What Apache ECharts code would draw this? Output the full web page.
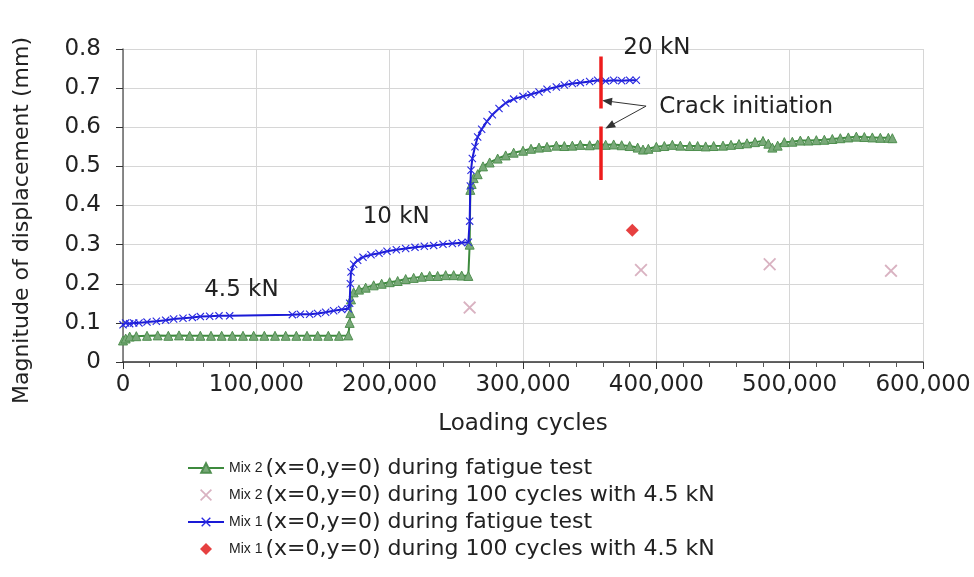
<!doctype html>
<html>
<head>
<meta charset="utf-8">
<script src="https://cdn.jsdelivr.net/npm/echarts@6/dist/echarts.min.js"></script>
<style>
  html, body { margin:0; padding:0; background:#fff; }
  #chart { width:974px; height:577px; }
</style>
</head>
<body>
<div id="chart"></div>
<script>
// Mix 1, fatigue test (blue)
const mix1Cycles = [0, 2000, 5000, 8000, 12000, 18000, 25000, 32000, 38000, 45000, 52000, 58000, 65000, 72000, 80000,
  127000, 133000, 140000, 146000, 152000, 158000, 164000, 169000,
  170000, 170500, 171000, 173000, 176000, 180000, 186000, 192000, 198000, 205000, 212000, 219000, 226000, 233000, 240000, 247000, 254000, 259000,
  260000, 260500, 261000, 262000, 264000, 266000, 269000, 273000, 277000, 282000, 287000, 293000, 300000, 306000, 312000, 318000, 325000, 331000, 337000, 343000, 350000, 356000, 362000, 368000, 374000, 380000, 385000];
const mix1Disp = [0.095, 0.100, 0.098, 0.100, 0.100, 0.102, 0.104, 0.107, 0.110, 0.112, 0.114, 0.116, 0.117, 0.118, 0.118,
  0.121, 0.122, 0.122, 0.124, 0.127, 0.131, 0.134, 0.136,
  0.150, 0.200, 0.230, 0.250, 0.260, 0.268, 0.274, 0.278, 0.283, 0.287, 0.290, 0.293, 0.296, 0.298, 0.301, 0.303, 0.305, 0.306,
  0.360, 0.450, 0.490, 0.520, 0.550, 0.575, 0.595, 0.615, 0.632, 0.648, 0.662, 0.672, 0.679, 0.684, 0.690, 0.697, 0.703, 0.708, 0.712, 0.714, 0.717, 0.720, 0.718, 0.720, 0.719, 0.720, 0.720];

// Mix 2, fatigue test (green)
const mix2Cycles = [0, 2000, 5000, 10000, 18000, 26000, 34000, 42000, 50000, 58000, 66000, 74000, 82000, 90000, 98000, 106000, 114000, 122000, 130000, 138000, 146000, 154000, 162000, 169000,
  170000, 170500, 171000, 173000, 177000, 182000, 188000, 194000, 200000, 206000, 212000, 218000, 224000, 230000, 236000, 242000, 248000, 254000, 259000,
  260000, 260500, 261500, 263000, 266000, 270000, 275000, 281000, 287000, 293000, 300000, 306000, 312000, 318000, 325000, 331000, 337000, 343000, 350000, 356000, 362000, 368000, 374000, 380000, 386000, 390000, 394000,
  400000, 406000, 412000, 418000, 425000, 431000, 437000, 443000, 450000, 456000, 462000, 468000, 474000, 480000, 484000, 487000, 491000, 496000,
  502000, 508000, 514000, 520000, 526000, 532000, 538000, 544000, 550000, 556000, 562000, 568000, 574000, 577000];
const mix2Disp = [0.055, 0.060, 0.065, 0.066, 0.067, 0.068, 0.067, 0.068, 0.067, 0.067, 0.067, 0.067, 0.067, 0.067, 0.067, 0.067, 0.067, 0.067, 0.067, 0.067, 0.067, 0.067, 0.067, 0.068,
  0.100, 0.125, 0.160, 0.178, 0.185, 0.190, 0.196, 0.200, 0.204, 0.207, 0.212, 0.215, 0.218, 0.220, 0.220, 0.222, 0.222, 0.221, 0.220,
  0.300, 0.440, 0.455, 0.470, 0.480, 0.500, 0.510, 0.520, 0.528, 0.535, 0.540, 0.545, 0.548, 0.550, 0.553, 0.552, 0.553, 0.555, 0.554, 0.556, 0.555, 0.556, 0.554, 0.552, 0.548, 0.543, 0.545,
  0.550, 0.552, 0.555, 0.553, 0.552, 0.552, 0.551, 0.552, 0.553, 0.555, 0.557, 0.559, 0.562, 0.565, 0.558, 0.548, 0.553, 0.562,
  0.563, 0.566, 0.566, 0.567, 0.568, 0.570, 0.572, 0.574, 0.576, 0.575, 0.574, 0.573, 0.573, 0.572];

// 100 cycles with 4.5 kN
const mix2Check100Cycles = [260000, 388500, 485000, 576000];
const mix2Check100Disp = [0.139, 0.235, 0.250, 0.233];
const mix1Check100Cycles = [382000];
const mix1Check100Disp = [0.337];

// crack initiation marker
const crackCycles = 358500;
const crackUpper = [0.648, 0.781];
const crackLower = [0.465, 0.602];

const seriesNames = [
  'Mix 2 (x=0,y=0) during fatigue test',
  'Mix 2 (x=0,y=0) during 100 cycles with 4.5 kN',
  'Mix 1 (x=0,y=0) during fatigue test',
  'Mix 1 (x=0,y=0) during 100 cycles with 4.5 kN'
];

const zip = (xs, ys) => xs.map((x, i) => [x, ys[i]]);
const X_MARK = 'path://M0,1L1,0L5,4L9,0L10,1L6,5L10,9L9,10L5,6L1,10L0,9L4,5Z';
const DIAMOND = 'path://M5,0L10,5L5,10L0,5Z';
const FONT = 'DejaVu Sans';

const chart = echarts.init(document.getElementById('chart'));
chart.setOption({
  animation: false,
  backgroundColor: '#fff',
  textStyle: { fontFamily: FONT },
  grid: { left: 123, right: 51, top: 49, bottom: 215 },
  xAxis: {
    type: 'value', min: 0, max: 600000, interval: 100000,
    name: 'Loading cycles', nameLocation: 'middle', nameGap: 51,
    nameTextStyle: { fontSize: 23, color: '#222', fontFamily: FONT },
    axisLine: { lineStyle: { color: '#333', width: 1.5 } },
    axisTick: { show: true, length: 7, lineStyle: { color: '#333' } },
    minorTick: { show: true, splitNumber: 5, length: 5, lineStyle: { color: '#555' } },
    axisLabel: { fontSize: 23, color: '#222', margin: 12, fontFamily: FONT,
      formatter: v => v.toLocaleString('en-US') },
    splitLine: { show: true, lineStyle: { color: '#d6d6d6' } }
  },
  yAxis: {
    type: 'value', min: 0, max: 0.8, interval: 0.1,
    name: 'Magnitude of displacement (mm)', nameLocation: 'middle', nameGap: 90,
    nameTextStyle: { fontSize: 22, color: '#222', fontFamily: FONT, padding: [0, 30, 0, 0] },
    axisLine: { show: true, lineStyle: { color: '#666', width: 1.5 } },
    axisTick: { show: true, length: 7, lineStyle: { color: '#333' } },
    axisLabel: { fontSize: 23, color: '#222', margin: 22, fontFamily: FONT },
    splitLine: { show: true, lineStyle: { color: '#d6d6d6' } }
  },
  legend: {
    orient: 'vertical', left: 182, top: 452, itemGap: 5,
    itemWidth: 36, itemHeight: 12, selectedMode: false,
    data: seriesNames,
    formatter: name => '{s|' + name.slice(0, 5) + '}{b|' + name.slice(6) + '}',
    textStyle: {
      rich: {
        s: { fontSize: 14, fontFamily: 'Liberation Sans', color: '#222', padding: [0, 3, 0, 0] },
        b: { fontSize: 22, fontFamily: FONT, color: '#222' }
      }
    }
  },
  series: [
    {
      name: seriesNames[0], type: 'line', z: 3,
      data: zip(mix2Cycles, mix2Disp),
      symbol: 'triangle', symbolSize: 9, showAllSymbol: true,
      lineStyle: { color: '#3d8a3d', width: 2 },
      itemStyle: { color: '#79a979', borderColor: '#4f8f4f', borderWidth: 1 }
    },
    {
      name: seriesNames[1], type: 'scatter', z: 3,
      data: zip(mix2Check100Cycles, mix2Check100Disp),
      symbol: X_MARK, symbolSize: 13,
      itemStyle: { color: '#cf9fb2' }
    },
    {
      name: seriesNames[2], type: 'line', z: 4,
      data: zip(mix1Cycles, mix1Disp),
      symbol: X_MARK, symbolSize: 8, showAllSymbol: true,
      lineStyle: { color: '#1a1ad6', width: 2 },
      itemStyle: { color: '#2a2ae0' }
    },
    {
      name: seriesNames[3], type: 'scatter', z: 4,
      data: zip(mix1Check100Cycles, mix1Check100Disp),
      symbol: DIAMOND, symbolSize: 13,
      itemStyle: { color: '#e01010' }
    },
    {
      name: 'crack-upper', type: 'line', z: 5, symbol: 'none',
      data: crackUpper.map(v => [crackCycles, v]),
      lineStyle: { color: '#ee1c1c', width: 3.5 }
    },
    {
      name: 'crack-lower', type: 'line', z: 5, symbol: 'none',
      data: crackLower.map(v => [crackCycles, v]),
      lineStyle: { color: '#ee1c1c', width: 3.5 },
      markLine: {
        silent: true, symbol: ['none', 'triangle'], symbolSize: [8, 10],
        label: { show: false },
        lineStyle: { color: '#333', width: 1, type: 'solid' },
        data: [
          [{ coord: [392300, 0.654] }, { coord: [363000, 0.667] }],
          [{ coord: [392300, 0.654] }, { coord: [365000, 0.603] }]
        ]
      },
      markPoint: {
        silent: true, symbol: 'circle', symbolSize: 0,
        label: { show: true, fontSize: 23, color: '#222', fontFamily: FONT },
        data: [
          { coord: [88800, 0.184], label: { formatter: '4.5 kN' } },
          { coord: [204900, 0.371], label: { formatter: '10 kN' } },
          { coord: [400400, 0.8], label: { formatter: '20 kN', offset: [0, -1] } },
          { coord: [402200, 0.6525], label: { formatter: 'Crack initiation', align: 'left' } }
        ]
      }
    }
  ]
});
</script>
</body>
</html>
